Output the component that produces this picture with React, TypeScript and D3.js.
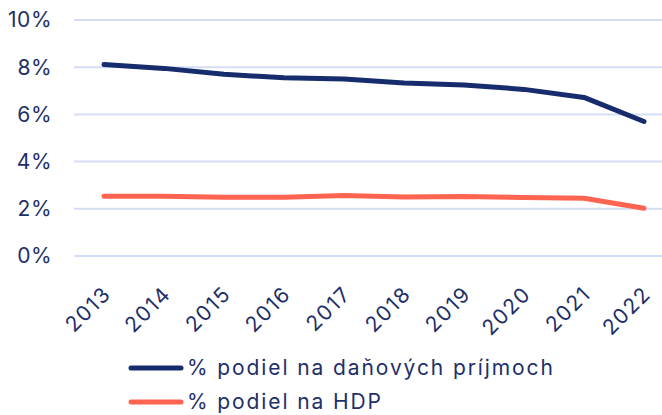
import React from "react";
import * as d3 from "d3";

const years = ["2013", "2014", "2015", "2016", "2017", "2018", "2019", "2020", "2021", "2022"];
const taxShare = [8.11, 7.95, 7.7, 7.55, 7.5, 7.33, 7.25, 7.06, 6.72, 5.7];
const gdpShare = [2.53, 2.53, 2.49, 2.49, 2.56, 2.5, 2.52, 2.48, 2.45, 2.02];
const yTicks = [0, 2, 4, 6, 8, 10];
const seriesNames = ["% podiel na daňových príjmoch", "% podiel na HDP"];

const width = 662;
const height = 415;
const navy = "#172c6c";
const orange = "#ff6450";
const textColor = "#1e2f6a";
const font = "Inter, sans-serif";

const App = () => {
  const x = d3.scalePoint().domain(years).range([104, 644]);
  const y = d3.scaleLinear().domain([0, 10]).range([256, 20]);

  const line = d3
    .line<number>()
    .x((_, i) => x(years[i]) as number)
    .y((d) => y(d));

  const series = [
    { name: seriesNames[0], values: taxShare, color: navy },
    { name: seriesNames[1], values: gdpShare, color: orange },
  ];

  return (
    <svg
      width={width}
      height={height}
      style={{ position: "absolute", left: 0, top: 0 }}
      fontFamily={font}
    >
      {/* grid + y labels */}
      {yTicks.map((t) => (
        <g key={t}>
          <line x1={74} x2={662} y1={y(t)} y2={y(t)} stroke="#d5ddf5" strokeWidth={2} />
          <text
            x={52}
            y={y(t)}
            dy="0.35em"
            textAnchor="end"
            fontSize={21}
            letterSpacing={0.5}
            fill={textColor}
          >
            {t}%
          </text>
        </g>
      ))}

      {/* x labels */}
      {years.map((yr) => (
        <text
          key={yr}
          transform={`translate(${(x(yr) as number) + 3},${290}) rotate(-45)`}
          textAnchor="end"
          dy="0.35em"
          fontSize={21}
          letterSpacing={1.6}
          fill={textColor}
        >
          {yr}
        </text>
      ))}

      {/* lines */}
      {series.map((s) => (
        <path
          key={s.name}
          d={line(s.values) as string}
          fill="none"
          stroke={s.color}
          strokeWidth={5}
          strokeLinecap="round"
          strokeLinejoin="round"
        />
      ))}

      {/* legend */}
      {series.map((s, i) => (
        <g key={s.name} transform={`translate(0,${368 + i * 34})`}>
          <line x1={131} x2={181} y1={0} y2={0} stroke={s.color} strokeWidth={5} strokeLinecap="round" />
          <text x={187} y={0} dy="0.35em" fontSize={21} letterSpacing={1.9} fill={textColor}>
            {s.name}
          </text>
        </g>
      ))}
    </svg>
  );
};

export default App;
